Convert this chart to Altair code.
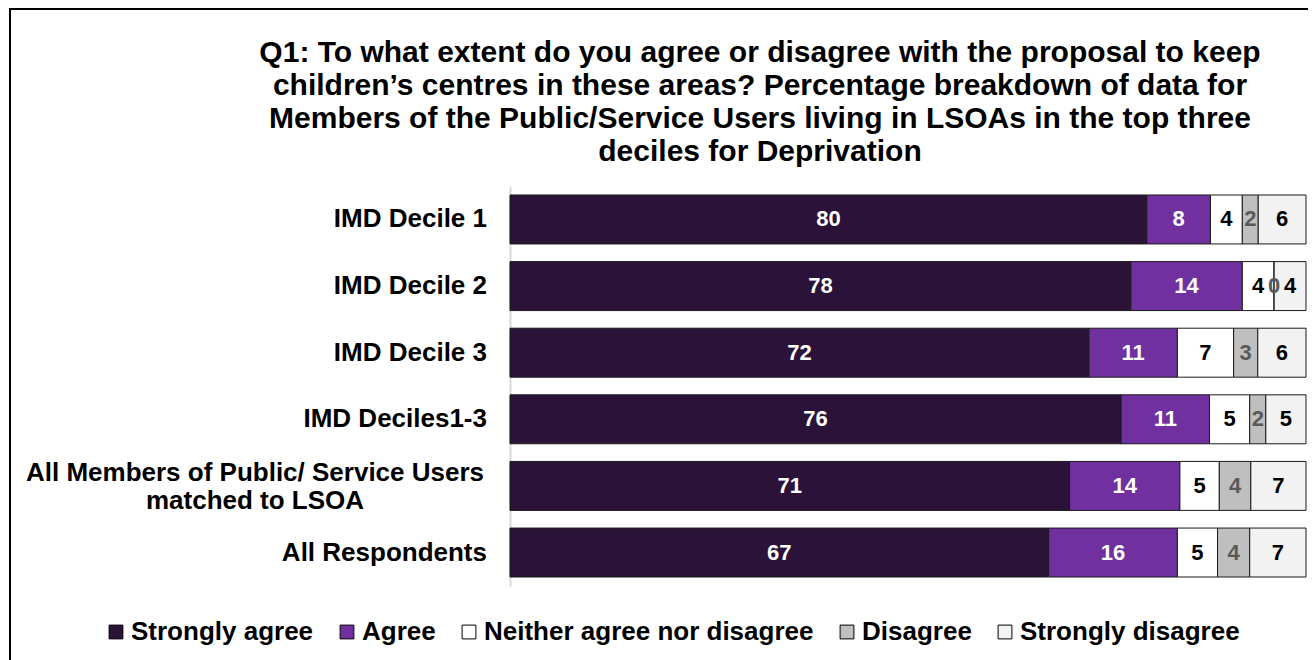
import altair as alt
import pandas as pd

categories = [
    "IMD Decile 1",
    "IMD Decile 2",
    "IMD Decile 3",
    "IMD Deciles1-3",
    "All Members of Public/ Service Users\nmatched to LSOA",
    "All Respondents",
]
series = ["Strongly agree", "Agree", "Neither agree nor disagree", "Disagree", "Strongly disagree"]
strongly_agree = [80, 78, 72, 76, 71, 67]
agree = [8, 14, 11, 11, 14, 16]
neither = [4, 4, 7, 5, 5, 5]
disagree = [2, 0, 3, 2, 4, 4]
strongly_disagree = [6, 4, 6, 5, 7, 7]

title_lines = [
    "Q1: To what extent do you agree or disagree with the proposal to keep",
    "children\u2019s centres in these areas? Percentage breakdown of data for",
    "Members of the Public/Service Users living in LSOAs in the top three",
    "deciles for Deprivation",
]

bar_colors = ["#2B1239", "#7030A0", "#FFFFFF", "#BFBFBF", "#F2F2F2"]
text_colors = ["#FFFFFF", "#FFFFFF", "#000000", "#595959", "#000000"]

values = [strongly_agree, agree, neither, disagree, strongly_disagree]
rows = []
for si, (s, vals) in enumerate(zip(series, values)):
    for c, v in zip(categories, vals):
        rows.append({"category": c, "series": s, "order": si, "value": v})
df = pd.DataFrame(rows)
cat_df = pd.DataFrame({"category": categories})

FONT = "Liberation Sans"

base = alt.Chart(df).transform_stack(
    stack="value",
    groupby=["category"],
    sort=[alt.SortField("order", order="ascending")],
    as_=["x0", "x1"],
    offset="normalize",
)

yenc = alt.Y(
    "category:N",
    sort=categories,
    scale=alt.Scale(paddingInner=0.265, paddingOuter=0.135),
    axis=alt.Axis(labels=False, ticks=False, title=None, domain=True,
                  domainColor="#D9D9D9", domainWidth=2, grid=False),
)
xscale = alt.Scale(domain=[0, 1])

bars = base.mark_bar(stroke="#1A1A1A", strokeWidth=1).encode(
    y=yenc,
    x=alt.X("x0:Q", scale=xscale, axis=None),
    x2="x1:Q",
    color=alt.Color(
        "series:N",
        sort=series,
        scale=alt.Scale(domain=series, range=bar_colors),
        legend=alt.Legend(
            title=None, orient="none", direction="horizontal", columns=5,
            legendX=-407, legendY=433,
            symbolType="square", symbolSize=190, symbolStrokeColor="#000000",
            symbolStrokeWidth=1, labelFont=FONT, labelFontSize=26,
            labelFontWeight="bold", labelColor="#000000", labelOffset=2,
            labelLimit=0, columnPadding=20, symbolOffset=0,
        ),
    ),
)

labels = base.transform_calculate(mid="(datum.x0 + datum.x1) / 2").mark_text(
    font=FONT, fontSize=22, fontWeight="bold", align="center", baseline="middle"
).encode(
    y=alt.Y("category:N", sort=categories),
    x=alt.X("mid:Q", scale=xscale),
    text=alt.Text("value:Q"),
    color=alt.Color("series:N", scale=alt.Scale(domain=series, range=text_colors), legend=None),
)

single = alt.Chart(cat_df).transform_filter(
    "indexof(datum.category, '\\n') < 0"
).mark_text(
    font=FONT, fontSize=26, fontWeight="bold", align="right", baseline="middle", color="#000000"
).encode(
    y=alt.Y("category:N", sort=categories),
    x=alt.value(-23),
    text="category:N",
)

multi = alt.Chart(cat_df).transform_filter(
    "indexof(datum.category, '\\n') >= 0"
).mark_text(
    font=FONT, fontSize=26, fontWeight="bold", align="center", baseline="middle",
    color="#000000", lineBreak="\n", lineHeight=28, dy=-13,
).encode(
    y=alt.Y("category:N", sort=categories),
    x=alt.value(-255),
    text="category:N",
)

one = pd.DataFrame({"f": [0]})

title = alt.Chart(one).mark_text(
    font=FONT, fontSize=30, fontWeight="bold", align="center", baseline="middle",
    color="#000000", lineHeight=33,
).encode(
    x=alt.value(250), y=alt.value(-133), text=alt.value(title_lines)
)

frame = alt.Chart(one).mark_rect(
    fill=None, stroke="#000000", strokeWidth=2
).encode(
    x=alt.value(-500), x2=alt.value(900), y=alt.value(-177), y2=alt.value(600)
)

chart = alt.layer(frame, title, bars, labels, single, multi).resolve_scale(
    color="independent"
).properties(
    width=796,
    height=400,
    autosize=alt.AutoSizeParams(type="none"),
    padding={"left": 502, "top": 178, "right": 2, "bottom": 74},
).configure_view(stroke=None)

chart.save("out.html", embed_options={"renderer": "svg", "actions": False})
